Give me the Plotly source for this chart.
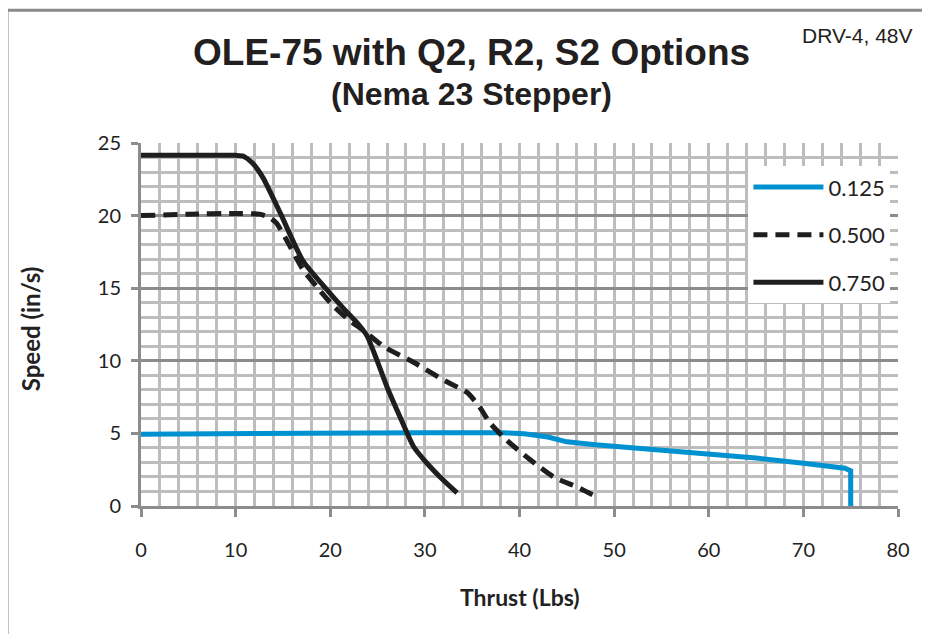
import plotly.graph_objects as go

# ---- data ----
series_names = ["0.125", "0.500", "0.750"]

thrust_0125 = [0, 10, 20, 30, 38, 40.5, 43, 45, 48, 55, 60, 65, 70, 74.4, 75.0, 75.0]
speed_0125 = [4.95, 5.0, 5.05, 5.05, 5.05, 4.98, 4.75, 4.42, 4.22, 3.85, 3.6, 3.3, 2.95, 2.6, 2.42, 0.0]

thrust_0500 = [0, 5, 10, 12.5, 13.5, 14.3, 15.4, 17.1, 18.7, 20.3, 22.0, 23.5, 25.6, 28.8,
               31.9, 34.5, 35.8, 36.9, 38.7, 41.1, 43.6, 46.1, 48.2]
speed_0500 = [20.0, 20.1, 20.15, 20.1, 19.9, 19.5, 18.3, 16.3, 15.0, 13.8, 12.8, 12.1, 11.0, 9.9,
              8.7, 7.8, 6.8, 5.7, 4.5, 3.2, 2.0, 1.3, 0.6]

thrust_0750 = [0, 5, 10, 10.8, 11.8, 12.9, 14.7, 17.1, 19.5, 21.4, 23.0, 23.9, 24.9, 26.0,
               27.4, 28.8, 30.2, 31.6, 33.4]
speed_0750 = [24.15, 24.15, 24.15, 24.1, 23.6, 22.6, 20.2, 16.9, 15.0, 13.6, 12.5, 11.7, 10.1, 8.2,
              6.1, 4.1, 2.96, 2.0, 0.9]

x_ticks = [0, 10, 20, 30, 40, 50, 60, 70, 80]
y_ticks = [0, 5, 10, 15, 20, 25]

title_text = "OLE-75 with Q2, R2, S2 Options"
subtitle_text = "(Nema 23 Stepper)"
corner_text = "DRV-4, 48V"
x_title = "Thrust (Lbs)"
y_title = "Speed (in/s)"

TICK_FONT = "Lato, Carlito, 'Open Sans', sans-serif"
HEAD_FONT = "'Liberation Sans', Arial, sans-serif"
LIGHT = "#bdbdbd"
DARK = "#8c8c8c"

fig = go.Figure()
fig.add_trace(go.Scatter(x=thrust_0125, y=speed_0125, mode="lines", name=series_names[0],
                         legendgroup="a", line=dict(color="#0092d0", width=5)))
fig.add_trace(go.Scatter(x=thrust_0500, y=speed_0500, mode="lines", name=series_names[1],
                         legendgroup="b", line=dict(color="#1e1e1e", width=5, dash="14px,8px",
                                                     shape="spline", smoothing=0.6)))
fig.add_trace(go.Scatter(x=thrust_0750, y=speed_0750, mode="lines", name=series_names[2],
                         legendgroup="c", line=dict(color="#1e1e1e", width=5,
                                                     shape="spline", smoothing=0.6)))

# page has an 8px body margin; margins chosen so the plot area sits at
# x 141..898, y 143..506 in the captured window
fig.update_layout(
    width=930, height=634,
    margin=dict(l=133, r=40, t=135, b=136),
    paper_bgcolor="white", plot_bgcolor="white",
    showlegend=True,
    legend=dict(x=0.99, xanchor="right", y=0.936, yanchor="top",
                bgcolor="white", borderwidth=0,
                font=dict(family=TICK_FONT, size=22, color="#222"),
                tracegroupgap=16, itemwidth=70),
    xaxis=dict(range=[0, 80], tickvals=x_ticks, ticks="outside", ticklen=8, tickwidth=3,
               tickcolor=DARK, showline=True, linecolor=DARK, linewidth=3, zeroline=False,
               showgrid=True, gridcolor=LIGHT, gridwidth=3,
               minor=dict(dtick=2, tick0=0, showgrid=True, gridcolor=LIGHT, gridwidth=3),
               tickfont=dict(family=TICK_FONT, size=20, color="#222"), ticklabelstandoff=16,
               fixedrange=True),
    yaxis=dict(range=[0, 25], tickvals=y_ticks, ticks="outside", ticklen=7, tickwidth=3,
               tickcolor=DARK, showline=True, linecolor=DARK, linewidth=3, zeroline=False,
               showgrid=True, gridcolor=DARK, gridwidth=3,
               minor=dict(dtick=1, tick0=0, showgrid=True, gridcolor=LIGHT, gridwidth=3),
               tickfont=dict(family=TICK_FONT, size=20, color="#222"), ticklabelstandoff=6,
               fixedrange=True),
    annotations=[
        dict(text="<b>" + title_text + "</b>", xref="paper", yref="paper", x=0.437, y=1.248,
             xanchor="center", yanchor="middle", showarrow=False,
             font=dict(family=HEAD_FONT, size=37, color="#231f20")),
        dict(text="<b>" + subtitle_text + "</b>", xref="paper", yref="paper", x=0.437, y=1.134,
             xanchor="center", yanchor="middle", showarrow=False,
             font=dict(family=HEAD_FONT, size=32, color="#231f20")),
        dict(text=corner_text, xref="paper", yref="paper", x=1.0225, y=1.2975,
             xanchor="right", yanchor="middle", showarrow=False,
             font=dict(family=HEAD_FONT, size=21, color="#231f20")),
        dict(text="<b>" + x_title + "</b>", xref="paper", yref="paper", x=0.5, y=-0.25,
             xanchor="center", yanchor="middle", showarrow=False,
             font=dict(family=TICK_FONT, size=23, color="#222")),
        dict(text="<b>" + y_title + "</b>", xref="paper", yref="paper", x=-0.1466, y=0.487,
             xanchor="center", yanchor="middle", showarrow=False, textangle=-90,
             font=dict(family=TICK_FONT, size=24, color="#222")),
    ],
    shapes=[
        dict(type="rect", xref="paper", yref="paper", x0=-0.177, y0=-2, x1=2, y1=1.366,
             line=dict(color="#8a8a8a", width=3), layer="below"),
    ],
)

fig.write_html("out.html")
